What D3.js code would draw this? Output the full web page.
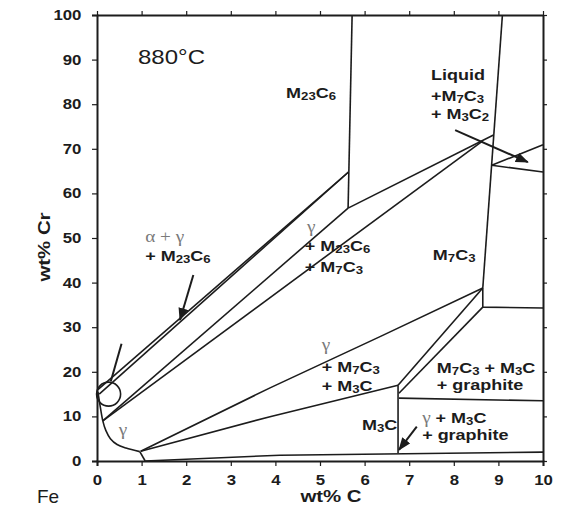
<!DOCTYPE html>
<html>
<head>
<meta charset="utf-8">
<script src="https://cdn.jsdelivr.net/npm/d3@7"></script>
<style>
  body { margin: 0; background: #fff; }
  svg { display: block; }
</style>
</head>
<body>
<div id="chart"></div>
<script>
// axis ticks
const xTickValues = [0, 1, 2, 3, 4, 5, 6, 7, 8, 9, 10];
const yTickValues = [0, 10, 20, 30, 40, 50, 60, 70, 80, 90, 100];

// phase boundaries, [wt% C, wt% Cr]
const gammaCurve = [[0.02, 15.5], [0.06, 13.0], [0.13, 9.0], [0.2, 6.8], [0.3, 5.0], [0.45, 3.7], [0.65, 2.9], [0.96, 2.1]];
const gammaFoot = [[0.96, 2.1], [1.08, 0.0]];
const alphaGammaTop = [[0.02, 16.0], [5.64, 64.8]];
const alphaGammaBottom = [[0.05, 15.0], [5.64, 64.8]];
const gammaM23Lower = [[0.13, 9.0], [5.63, 56.7]];
const m23m7Upper = [[5.63, 56.7], [8.89, 73.1]];
const gammaM7Lower = [[0.13, 9.0], [8.65, 71.8]];
const m23c6Line = [[5.72, 100], [5.63, 56.7]];
const m7c3Left = [[9.09, 100], [8.65, 38.8]];
const liquidUpper = [[8.85, 66.3], [10, 70.9]];
const liquidLower = [[8.85, 66.3], [10, 64.8]];
const gammaM3Upper = [[0.98, 2.2], [3.88, 16.4], [6.37, 28.0], [8.65, 38.8]];
const gammaM3Lower = [[0.98, 2.2], [3.9, 10.0], [6.75, 17.0]];
const m3cLine = [[6.75, 17.0], [6.75, 1.8]];
const m3cM7Upper = [[6.75, 17.0], [8.65, 38.8]];
const m3cM7Lower = [[6.77, 15.2], [8.65, 34.5]];
const m7Foot = [[8.65, 38.8], [8.65, 34.5], [10, 34.3]];
const graphiteTop = [[6.77, 14.1], [10, 13.5]];
const graphiteBottom = [[1.08, 0.0], [4.1, 1.3], [10, 2.0]];

const straightLines = [alphaGammaTop, alphaGammaBottom, gammaM23Lower, m23m7Upper, gammaM7Lower,
  m23c6Line, m7c3Left, liquidUpper, liquidLower, gammaM3Upper, gammaM3Lower, m3cLine,
  m3cM7Upper, m3cM7Lower, m7Foot, graphiteTop, graphiteBottom, gammaFoot];

const arrows = [
  { from: [2.16, 41.7], to: [1.86, 31.6], head: true },
  { from: [8.03, 74.2], to: [9.66, 67.0], head: true },
  { from: [7.17, 7.7], to: [6.77, 2.5], head: true },
  { from: [0.55, 26.3], to: [0.31, 17.9], head: false },
];
const circleAt = [0.26, 15.0];

// {..} = subscript, ~..~ = greek
const labels = [
  { t: "880°C", at: [0.92, 89.0], big: true },
  { t: "M{23}C{6}", at: [4.24, 81.4] },
  { t: "Liquid", at: [7.49, 85.4] },
  { t: "+M{7}C{3}", at: [7.49, 80.7] },
  { t: "+ M{3}C{2}", at: [7.49, 76.7] },
  { t: "~α + γ~", at: [1.08, 49.1] },
  { t: "+ M{23}C{6}", at: [1.08, 44.8] },
  { t: "~γ~", at: [0.49, 5.8] },
  { t: "~γ~", at: [4.71, 51.3] },
  { t: "+ M{23}C{6}", at: [4.66, 47.1] },
  { t: "+ M{7}C{3}", at: [4.66, 42.4] },
  { t: "M{7}C{3}", at: [7.53, 45.1] },
  { t: "~γ~", at: [5.04, 24.9] },
  { t: "+ M{7}C{3}", at: [5.04, 20.0] },
  { t: "+ M{3}C", at: [5.04, 15.7] },
  { t: "M{7}C{3} + M{3}C", at: [7.62, 19.7] },
  { t: "+ graphite", at: [7.62, 15.9] },
  { t: "M{3}C", at: [5.94, 7.0] },
  { t: "~γ~ + M{3}C", at: [7.29, 8.5] },
  { t: "+ graphite", at: [7.29, 4.6] },
];

const W = 562, H = 508;
const STRETCH = 1.2;
const INK = "#1c1c1c";

const x = d3.scaleLinear().domain([0, 10]).range([97, 543]);
const y = d3.scaleLinear().domain([0, 100]).range([461, 15]);

const svg = d3.select("#chart").append("svg")
  .attr("width", W).attr("height", H)
  .style("font-family", "'Liberation Sans', Arial, sans-serif");

svg.append("defs").append("marker")
  .attr("id", "head")
  .attr("markerUnits", "userSpaceOnUse")
  .attr("markerWidth", 14).attr("markerHeight", 10)
  .attr("refX", 12).attr("refY", 5)
  .attr("orient", "auto")
  .append("path")
  .attr("d", "M0,0 L13,5 L0,10 Z")
  .attr("fill", INK);

const line = d3.line().x(d => x(d[0])).y(d => y(d[1]));

svg.append("g").selectAll("path")
  .data(straightLines)
  .enter().append("path")
  .attr("d", line)
  .attr("fill", "none")
  .attr("stroke", INK)
  .attr("stroke-width", 1.6);

svg.append("path")
  .attr("d", line.curve(d3.curveCatmullRom)(gammaCurve))
  .attr("fill", "none")
  .attr("stroke", INK)
  .attr("stroke-width", 1.6);

svg.append("circle")
  .attr("cx", x(circleAt[0])).attr("cy", y(circleAt[1]))
  .attr("r", 12)
  .attr("fill", "none")
  .attr("stroke", INK)
  .attr("stroke-width", 1.6);

svg.append("g").selectAll("line")
  .data(arrows)
  .enter().append("line")
  .attr("x1", d => x(d.from[0])).attr("y1", d => y(d.from[1]))
  .attr("x2", d => x(d.to[0])).attr("y2", d => y(d.to[1]))
  .attr("stroke", INK)
  .attr("stroke-width", 2)
  .attr("marker-end", d => d.head ? "url(#head)" : null);

// axes
const styleAxis = (g, labelled) => {
  g.select(".domain").attr("stroke", INK).attr("stroke-width", 2);
  g.selectAll(".tick line").attr("stroke", INK).attr("stroke-width", 1.2);
  g.selectAll(".tick text")
    .attr("fill", INK)
    .style("font-size", "14px")
    .style("font-weight", "bold")
    .style("font-family", "'Liberation Sans', Arial, sans-serif")
    .attr("transform", `scale(${STRETCH},1)`);
  if (!labelled) g.selectAll(".tick text").remove();
};

svg.append("g").attr("transform", `translate(0,${y(0)})`)
  .call(d3.axisBottom(x).tickValues(xTickValues).tickSize(5).tickPadding(9).tickFormat(d3.format("d")))
  .call(g => styleAxis(g, true));
svg.append("g").attr("transform", `translate(0,${y(100)})`)
  .call(d3.axisTop(x).tickValues(xTickValues).tickSize(4).tickSizeOuter(0))
  .call(g => styleAxis(g, false));
svg.append("g").attr("transform", `translate(${x(0)},0)`)
  .call(d3.axisLeft(y).tickValues(yTickValues).tickSize(5).tickPadding(8).tickFormat(d3.format("d")))
  .call(g => styleAxis(g, true));
svg.append("g").attr("transform", `translate(${x(10)},0)`)
  .call(d3.axisRight(y).tickValues(yTickValues).tickSize(4).tickSizeOuter(0))
  .call(g => styleAxis(g, false));

// rich labels
function addRich(text, str) {
  const parts = str.match(/\{[^}]*\}|~[^~]*~|[^{~]+/g);
  let shift = 0;
  parts.forEach(p => {
    const ts = text.append("tspan");
    let target = 0;
    if (p[0] === "{") {
      ts.text(p.slice(1, -1)).style("font-size", "11px");
      target = 2;
    } else if (p[0] === "~") {
      ts.text(p.slice(1, -1))
        .style("font-family", "'Liberation Serif', 'DejaVu Serif', serif")
        .style("font-weight", "normal")
        .style("font-size", "16px")
        .attr("fill", "#7a7a7a");
    } else {
      ts.text(p);
    }
    if (target !== shift) ts.attr("dy", target - shift);
    shift = target;
  });
}

labels.forEach(l => {
  const t = svg.append("text")
    .attr("transform", `translate(${x(l.at[0])},${y(l.at[1])}) scale(${STRETCH},1)`)
    .attr("fill", INK)
    .style("font-size", l.big ? "20px" : "15px")
    .style("font-weight", l.big ? "normal" : "bold");
  addRich(t, l.t);
});

// axis titles
svg.append("text")
  .attr("transform", `translate(331,502) scale(${STRETCH},1)`)
  .attr("text-anchor", "middle")
  .attr("fill", INK)
  .style("font-size", "17px").style("font-weight", "bold")
  .text("wt% C");

svg.append("text")
  .attr("transform", `translate(50,247) rotate(-90) scale(${STRETCH},1)`)
  .attr("text-anchor", "middle")
  .attr("fill", INK)
  .style("font-size", "17px").style("font-weight", "bold")
  .text("wt% Cr");

svg.append("text")
  .attr("x", 37).attr("y", 503)
  .attr("fill", INK)
  .style("font-size", "19px")
  .text("Fe");
</script>
</body>
</html>
